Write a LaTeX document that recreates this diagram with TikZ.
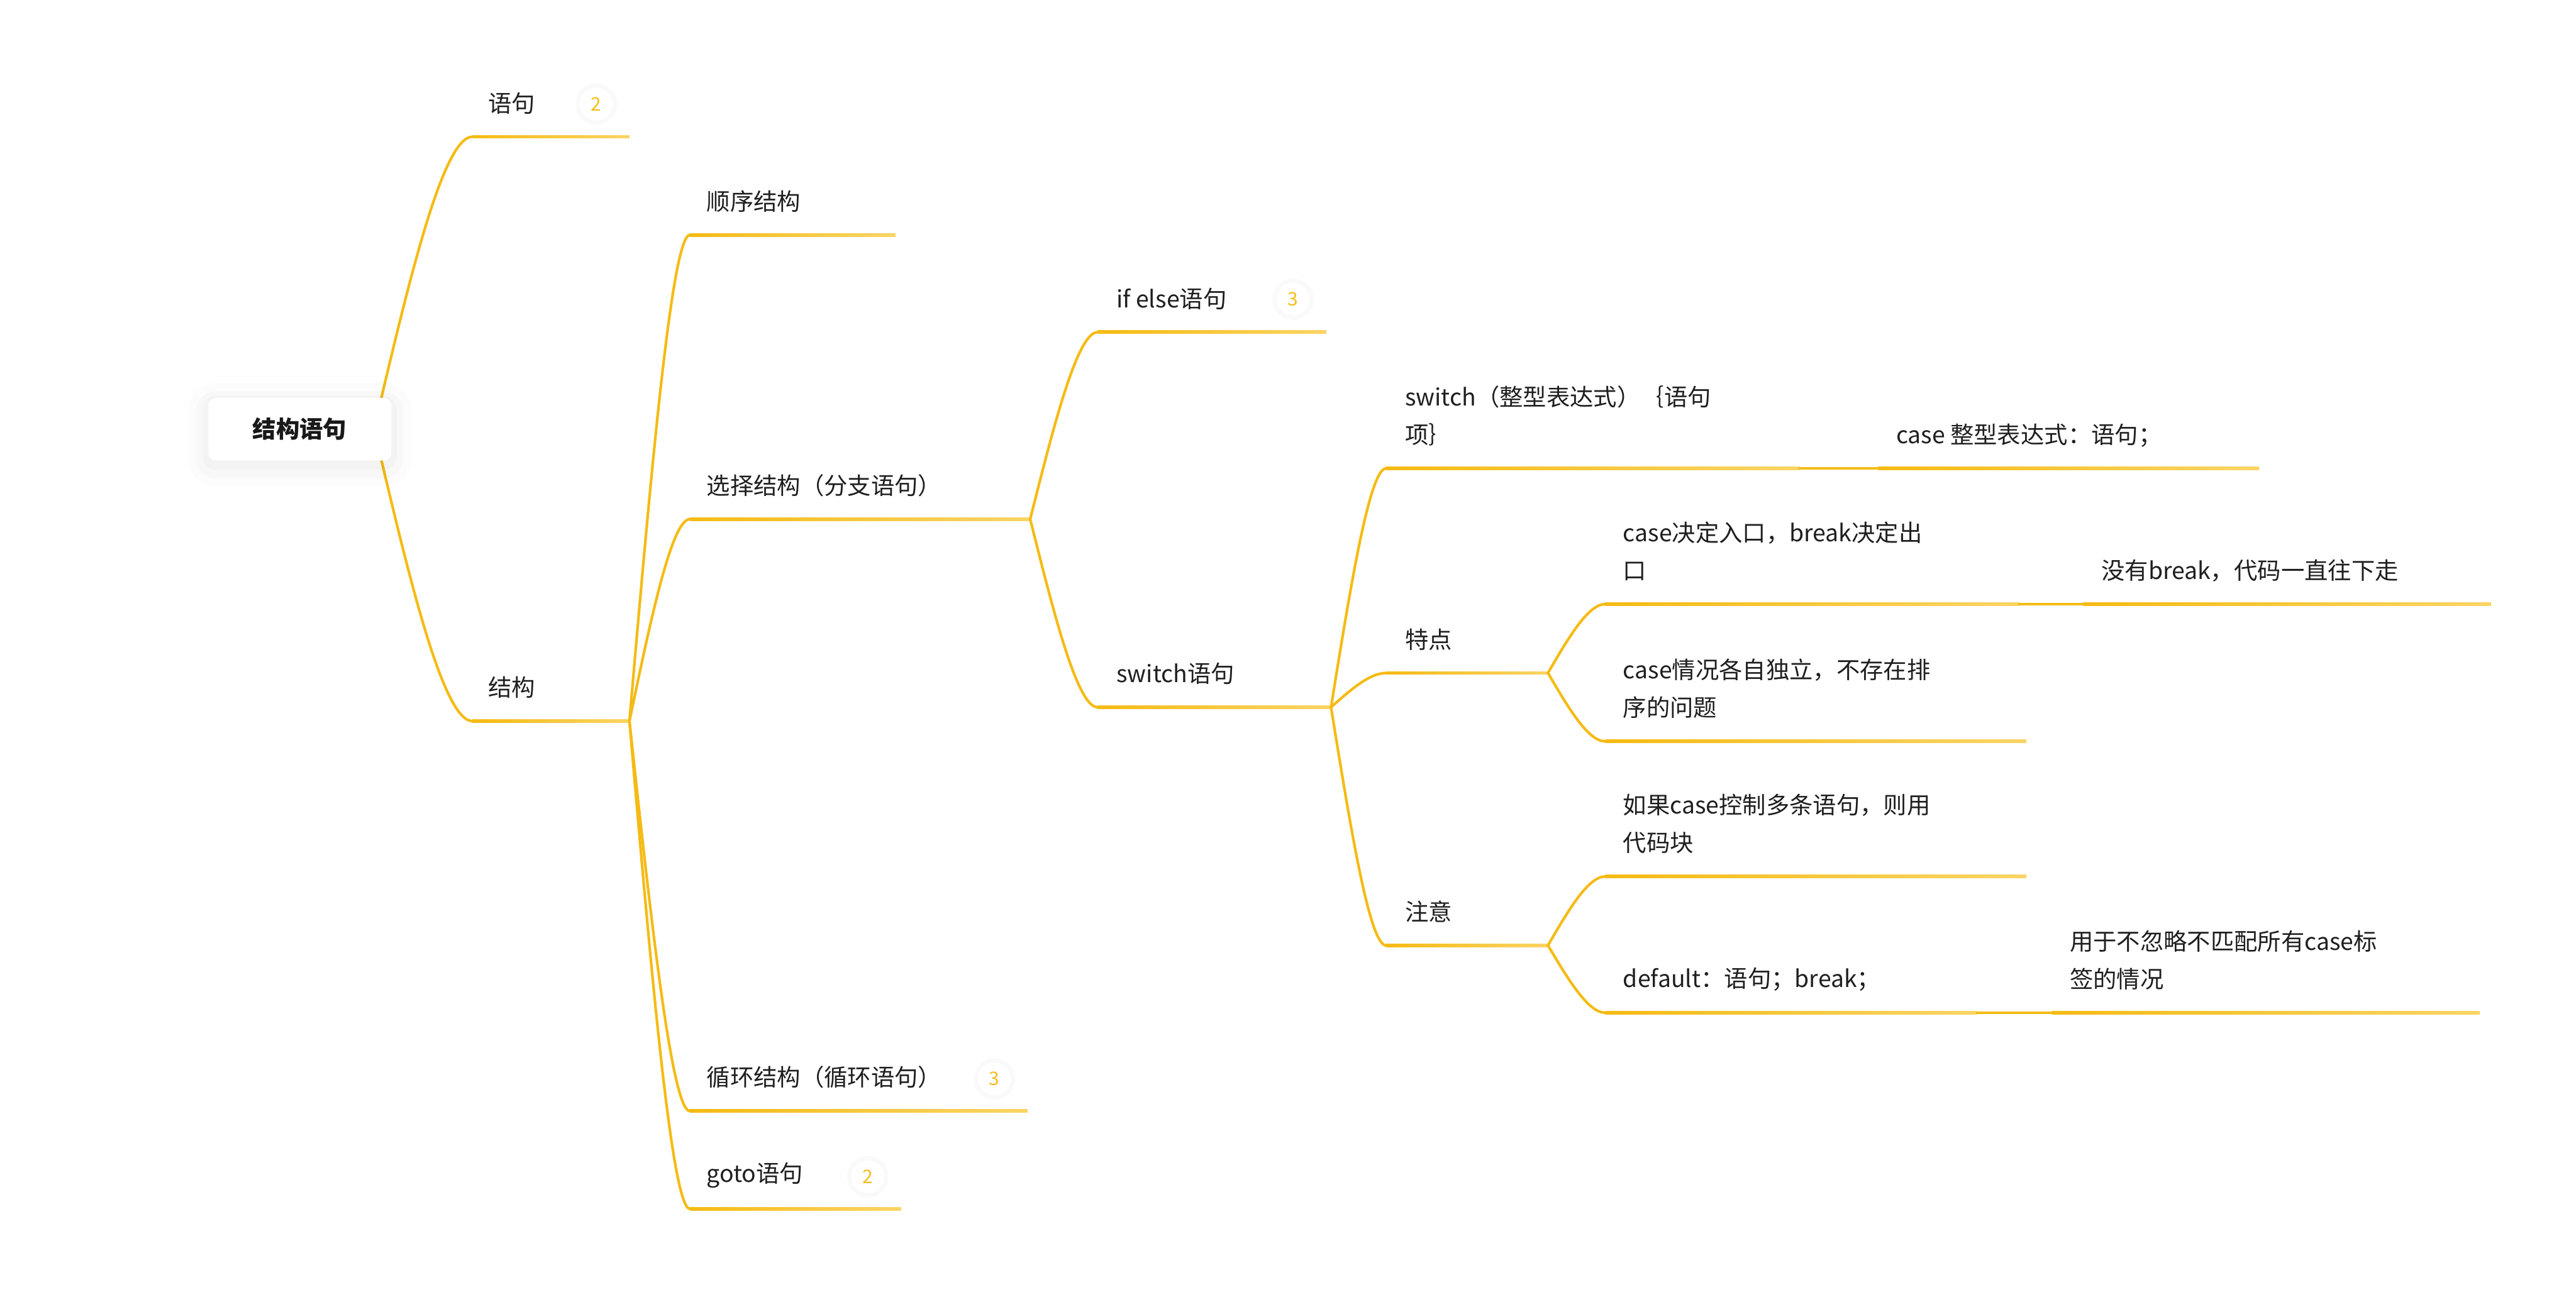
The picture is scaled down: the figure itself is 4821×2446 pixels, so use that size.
\documentclass[tikz,border=0pt]{standalone}
\usepackage{fontspec}
\setmainfont{Noto Sans CJK SC}
\usetikzlibrary{calc}
\definecolor{gold}{RGB}{245,187,20}
\definecolor{goldlt}{RGB}{250,212,100}
\definecolor{goldnum}{RGB}{244,190,30}
\newcommand\vs{\rule[-0.12em]{0pt}{1em}}
\newcommand\ulin[4]{\coordinate (#1) at (#2,#4); \shade[left color=gold, right color=goldlt] (#2,#4-2.9) rectangle (#3,#4+2.9);}
\begin{document}
\begin{tikzpicture}[x=0.01cm,y=-0.01cm,
  link/.style={draw=gold, line width=1.4pt, line cap=round, to path={let \p1=(\tikztostart), \p2=(\tikztotarget) in .. controls ({\x1+0.35*(\x2-\x1)},{0.5*(\y1+\y2)}) and ({\x1+0.7*(\x2-\x1)},\y2) .. (\tikztotarget)}},
  txt/.style={anchor=west, inner sep=0pt, align=left, text=black!88, font=\fontsize{12.5pt}{20.2pt}\selectfont},
  badge/.style={circle, minimum size=0.64cm, inner sep=0pt, fill=white, draw=black!2.5, line width=0.5pt,
    preaction={draw=black, draw opacity=0.018, line width=4pt},
    text=goldnum, font=\fontsize{10pt}{12pt}\selectfont},
  rootbox/.style={rectangle, rounded corners=4pt, minimum width=3.42cm, minimum height=1.17cm, inner sep=0pt, fill=white,
    preaction={draw=black, draw opacity=0.012, line width=22pt, transform canvas={yshift=-3pt}},
    preaction={draw=black, draw opacity=0.015, line width=13pt, transform canvas={yshift=-3pt}},
    preaction={draw=black, draw opacity=0.02, line width=6pt, transform canvas={yshift=-2pt}},
    text=black!90, font=\fontsize{12.5pt}{15pt}\selectfont\bfseries}
]
\fill[white] (0,0) rectangle (4821,2446);
\useasboundingbox (0,0) rectangle (4821,2446);

% underlines (and their start coordinates)
\coordinate (rootout) at (700,803);
\ulin{u1}{884}{1178}{256}
\ulin{u2}{884}{1178}{1350}
\coordinate (j2) at (1178,1350);
\ulin{u21}{1291}{1676}{440}
\ulin{u22}{1291}{1928}{972}
\ulin{u23}{1291}{1923}{2080}
\ulin{u24}{1291}{1686}{2263}
\coordinate (j22) at (1928,972);
\ulin{u221}{2054}{2482}{622}
\ulin{u222}{2054}{2491}{1324}
\coordinate (j222) at (2491,1324);
\ulin{s1}{2594}{3368}{877}
\ulin{s2}{2594}{2897}{1260}
\ulin{s3}{2594}{2897}{1770}
\coordinate (js1) at (3368,877);
\ulin{s11}{3515}{4228}{877}
\coordinate (js2) at (2897,1260);
\ulin{s21}{3004}{3779}{1131}
\ulin{s22}{3004}{3792}{1388}
\coordinate (js21) at (3779,1131);
\ulin{s211}{3899}{4662}{1131}
\coordinate (js3) at (2897,1770);
\ulin{s31}{3004}{3792}{1641}
\ulin{s32}{3004}{3700}{1896}
\coordinate (js32) at (3700,1896);
\ulin{s321}{3840}{4641}{1896}

% connectors
\draw[link] (rootout) to (u1);
\draw[link] (rootout) to (u2);
\draw[link] (j2) to (u21);
\draw[link] (j2) to (u22);
\draw[link] (j2) to (u23);
\draw[link] (j2) to (u24);
\draw[link] (j22) to (u221);
\draw[link] (j22) to (u222);
\draw[link] (j222) to (s1);
\draw[link] (j222) to (s2);
\draw[link] (j222) to (s3);
\draw[link] (js1) to (s11);
\draw[link] (js2) to (s21);
\draw[link] (js2) to (s22);
\draw[link] (js21) to (s211);
\draw[link] (js3) to (s31);
\draw[link] (js3) to (s32);
\draw[link] (js32) to (s321);

% root
\node[rootbox] (root) at (561,803.5) {结构语句};

% texts
\node[txt] (t1) at (913,193) {\vs 语句};
\node[txt] (t2) at (913,1287) {\vs 结构};
\node[txt] (t21) at (1322,377) {\vs 顺序结构};
\node[txt] (t22) at (1322,909) {\vs 选择结构（分支语句）};
\node[txt] (t23) at (1322,2017) {\vs 循环结构（循环语句）};
\node[txt] (t24) at (1322,2200) {\vs goto语句};
\node[txt] (t221) at (2089,559) {\vs if else语句};
\node[txt] (t222) at (2089,1261) {\vs switch语句};
\node[txt] (ts1) at (2629,778.5) {\vs switch（整型表达式）｛语句\\\vs 项｝};
\node[txt] (ts2) at (2629,1197) {\vs 特点};
\node[txt] (ts3) at (2629,1707) {\vs 注意};
\node[txt] (ts11) at (3548,814) {\vs case 整型表达式：语句；};
\node[txt] (ts21) at (3037,1032.5) {\vs case决定入口，break决定出\\\vs 口};
\node[txt] (ts211) at (3932,1068) {\vs 没有break，代码一直往下走};
\node[txt] (ts22) at (3037,1289.5) {\vs case情况各自独立，不存在排\\\vs 序的问题};
\node[txt] (ts31) at (3037,1542.5) {\vs 如果case控制多条语句，则用\\\vs 代码块};
\node[txt] (ts32) at (3037,1833) {\vs default：语句；break；};
\node[txt] (ts321) at (3873,1797.5) {\vs 用于不忽略不匹配所有case标\\\vs 签的情况};

% badges
\node[badge] (b1) at (1116,195) {2};
\node[badge] (b23) at (1861,2020) {3};
\node[badge] (b24) at (1624,2203) {2};
\node[badge] (b221) at (2420,560) {3};
\end{tikzpicture}
\end{document}
